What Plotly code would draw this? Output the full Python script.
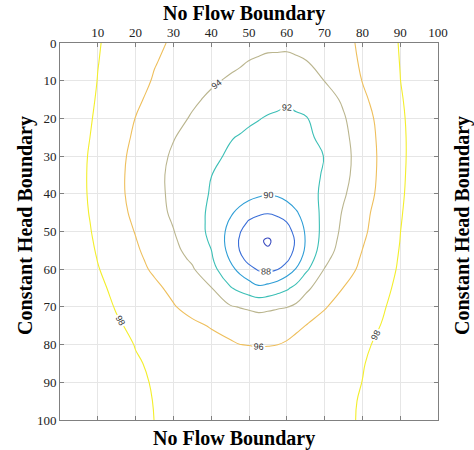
import plotly.graph_objects as go

# Grid coordinates (model domain, 0-100 in both directions)
x_vals = [0, 5, 10, 15, 20, 25, 30, 35, 40, 45, 47.5, 50, 52.5, 55, 57.5, 60, 62.5, 65, 70, 75, 80, 85, 90, 95, 100]
y_vals = [0, 5, 10, 15, 20, 25, 30, 35, 40, 45, 47.5, 50, 52.5, 55, 57.5, 60, 65, 70, 75, 80, 85, 90, 95, 100]

# Head values, one row per y value
z_y0 = [100, 99.06, 98.11, 97.48, 96.89, 96.30, 95.81, 95.42, 95.04, 94.66, 94.50, 94.33, 94.28, 94.22, 94.21, 94.20, 94.26, 94.31, 94.84, 95.54, 96.30, 97.20, 98.10, 99.05, 100]
z_y5 = [100, 99.02, 98.04, 97.38, 96.73, 96.08, 95.62, 95.20, 94.77, 94.34, 94.16, 93.97, 93.89, 93.80, 93.79, 93.77, 93.86, 93.95, 94.56, 95.37, 96.20, 97.12, 98.04, 99.02, 100]
z_y10 = [100, 98.97, 97.96, 97.25, 96.54, 95.87, 95.32, 94.77, 94.22, 93.81, 93.66, 93.50, 93.35, 93.19, 93.18, 93.17, 93.38, 93.59, 94.02, 95.03, 96.04, 97.01, 97.98, 98.99, 100]
z_y15 = [100, 98.89, 97.84, 97.06, 96.27, 95.57, 94.92, 94.26, 93.72, 93.25, 93.02, 92.79, 92.62, 92.45, 92.33, 92.20, 92.35, 92.49, 93.20, 94.27, 95.64, 96.78, 97.83, 98.91, 100]
z_y20 = [100, 98.78, 97.69, 96.83, 95.97, 95.24, 94.51, 93.84, 93.30, 92.76, 92.49, 92.22, 92.06, 91.89, 91.80, 91.70, 91.81, 91.91, 92.68, 93.82, 95.22, 96.53, 97.70, 98.85, 100]
z_y25 = [100, 98.65, 97.54, 96.64, 95.76, 94.92, 94.08, 93.41, 92.75, 92.09, 91.91, 91.73, 91.58, 91.42, 91.45, 91.48, 91.63, 91.77, 92.28, 93.56, 95.00, 96.41, 97.63, 98.82, 100]
z_y30 = [100, 98.51, 97.39, 96.48, 95.55, 94.62, 93.76, 93.04, 92.33, 91.79, 91.60, 91.40, 91.21, 91.01, 91.07, 91.12, 91.34, 91.56, 92.03, 93.39, 94.88, 96.35, 97.62, 98.82, 100]
z_y35 = [100, 98.46, 97.35, 96.41, 95.46, 94.49, 93.60, 92.80, 92.02, 91.51, 91.26, 91.00, 90.75, 90.50, 90.69, 90.87, 91.17, 91.47, 92.14, 93.49, 94.94, 96.38, 97.67, 98.85, 100]
z_y40 = [100, 98.48, 97.36, 96.42, 95.47, 94.53, 93.61, 92.71, 91.88, 91.28, 90.99, 90.69, 90.33, 90.12, 90.25, 90.67, 91.04, 91.41, 92.30, 93.79, 95.15, 96.46, 97.74, 98.89, 100]
z_y45 = [100, 98.57, 97.46, 96.56, 95.63, 94.67, 93.71, 92.74, 91.67, 90.28, 89.53, 88.75, 88.42, 88.14, 88.50, 88.96, 89.83, 90.73, 92.52, 94.18, 95.48, 96.70, 97.86, 98.94, 100]
z_y47 = [100, 98.65, 97.55, 96.67, 95.78, 94.83, 93.89, 92.83, 91.61, 89.80, 88.78, 87.79, 87.16, 86.98, 87.27, 88.02, 89.25, 90.45, 92.60, 94.31, 95.58, 96.77, 97.92, 98.97, 100]
z_y50 = [100, 98.72, 97.63, 96.78, 95.93, 94.99, 94.06, 92.92, 91.59, 89.44, 88.15, 87.07, 86.44, 86.26, 86.54, 87.29, 88.60, 90.22, 92.69, 94.44, 95.68, 96.84, 97.98, 98.99, 100]
z_y52 = [100, 98.81, 97.73, 96.90, 96.07, 95.16, 94.25, 93.11, 91.76, 89.26, 87.85, 86.77, 86.14, 85.88, 86.25, 86.99, 88.23, 90.12, 92.86, 94.62, 95.85, 96.95, 98.02, 99.01, 100]
z_y55 = [100, 98.89, 97.84, 97.02, 96.21, 95.35, 94.46, 93.35, 92.03, 89.42, 87.98, 86.90, 86.27, 86.09, 86.37, 87.12, 88.43, 90.30, 93.13, 94.80, 96.02, 97.05, 98.08, 99.04, 100]
z_y57 = [100, 98.97, 97.96, 97.16, 96.37, 95.55, 94.72, 93.77, 92.28, 89.89, 88.58, 87.45, 86.82, 86.64, 86.92, 87.67, 89.17, 90.79, 93.62, 95.04, 96.20, 97.17, 98.14, 99.07, 100]
z_y60 = [100, 99.04, 98.08, 97.29, 96.52, 95.75, 94.97, 94.19, 92.67, 90.56, 89.51, 88.57, 87.80, 87.62, 87.91, 88.95, 90.12, 91.59, 94.07, 95.28, 96.37, 97.28, 98.20, 99.10, 100]
z_y65 = [100, 99.17, 98.35, 97.62, 96.97, 96.32, 95.62, 94.85, 94.08, 92.16, 91.52, 90.94, 90.36, 90.67, 91.20, 91.73, 92.53, 93.64, 94.93, 96.03, 96.80, 97.57, 98.36, 99.18, 100]
z_y70 = [100, 99.29, 98.58, 97.89, 97.30, 96.70, 96.11, 95.47, 94.83, 94.19, 93.93, 93.76, 93.59, 93.67, 93.81, 93.95, 94.35, 94.87, 95.90, 96.57, 97.20, 97.82, 98.53, 99.26, 100]
z_y75 = [100, 99.39, 98.79, 98.18, 97.68, 97.23, 96.77, 96.32, 95.89, 95.51, 95.32, 95.13, 94.94, 95.09, 95.32, 95.55, 95.79, 96.02, 96.52, 97.02, 97.52, 98.03, 98.68, 99.34, 100]
z_y80 = [100, 99.48, 98.96, 98.45, 97.95, 97.60, 97.24, 96.89, 96.54, 96.18, 96.01, 95.97, 95.94, 95.95, 95.99, 96.12, 96.32, 96.53, 96.94, 97.36, 97.77, 98.26, 98.84, 99.42, 100]
z_y85 = [100, 99.53, 99.06, 98.59, 98.12, 97.81, 97.56, 97.30, 97.05, 96.80, 96.68, 96.55, 96.43, 96.51, 96.66, 96.80, 96.94, 97.08, 97.37, 97.65, 97.93, 98.40, 98.94, 99.47, 100]
z_y90 = [100, 99.56, 99.13, 98.69, 98.25, 97.90, 97.67, 97.44, 97.20, 96.97, 96.86, 96.74, 96.62, 96.70, 96.83, 96.96, 97.09, 97.22, 97.48, 97.75, 98.01, 98.51, 99.00, 99.50, 100]
z_y95 = [100, 99.58, 99.17, 98.75, 98.33, 97.96, 97.74, 97.53, 97.31, 97.09, 96.99, 96.88, 96.77, 96.85, 96.96, 97.09, 97.20, 97.32, 97.56, 97.80, 98.08, 98.56, 99.04, 99.52, 100]
z_y100 = [100, 99.60, 99.19, 98.79, 98.38, 97.99, 97.77, 97.56, 97.35, 97.13, 97.03, 96.92, 96.82, 96.89, 97.01, 97.12, 97.24, 97.35, 97.59, 97.82, 98.10, 98.58, 99.05, 99.53, 100]

z_rows = [z_y0, z_y5, z_y10, z_y15, z_y20, z_y25, z_y30, z_y35, z_y40, z_y45, z_y47, z_y50,
          z_y52, z_y55, z_y57, z_y60, z_y65, z_y70, z_y75, z_y80, z_y85, z_y90, z_y95, z_y100]

x_ticks = [10, 20, 30, 40, 50, 60, 70, 80, 90, 100]
y_ticks = [0, 10, 20, 30, 40, 50, 60, 70, 80, 90, 100]

# Contour levels and line colours (parula-like)
levels = [86, 88, 90, 92, 94, 96, 98]
level_colors = ["#3b4cc0", "#3a6ed8", "#2f9ed6", "#3cbfb6", "#bab58e", "#eebf5c", "#f3ee2c"]

colorscale = [[i / (len(levels) - 1), c] for i, c in enumerate(level_colors)]

fig = go.Figure()
fig.add_trace(go.Contour(
    x=x_vals, y=y_vals, z=z_rows,
    zmin=levels[0], zmax=levels[-1],
    colorscale=colorscale, showscale=False,
    contours=dict(start=levels[0], end=levels[-1], size=2, coloring="lines",
                  showlabels=True,
                  labelfont=dict(family="Liberation Sans, Arial", size=9, color="#333333")),
    line=dict(width=1.1, smoothing=1.3),
    hoverinfo="skip",
))

serif = "Liberation Serif, Times New Roman, serif"
axis_common = dict(
    showline=True, linecolor="#808080", linewidth=1, mirror="ticks",
    ticks="inside", ticklen=4, tickcolor="#808080",
    showgrid=True, gridcolor="#e6e6e6", gridwidth=1,
    zeroline=False, automargin=False,
    tickfont=dict(family=serif, size=13, color="#222222"),
)

fig.update_layout(
    width=474, height=450,
    margin=dict(l=60, r=36, t=43, b=30, autoexpand=False),
    paper_bgcolor="white", plot_bgcolor="white",
    xaxis=dict(range=[0, 100], side="top", tickvals=x_ticks, **axis_common),
    yaxis=dict(range=[100, 0], tickvals=y_ticks, **axis_common),
    showlegend=False,
    annotations=[
        dict(text="<b>No Flow Boundary</b>", xref="paper", yref="paper",
             x=0.487, y=1.077, xanchor="center", yanchor="middle", showarrow=False,
             font=dict(family=serif, size=20, color="#000000")),
        dict(text="<b>No Flow Boundary</b>", xref="paper", yref="paper",
             x=0.46, y=-0.048, xanchor="center", yanchor="middle", showarrow=False,
             font=dict(family=serif, size=20, color="#000000")),
        dict(text="<b>Constant Head Boundary</b>", xref="paper", yref="paper",
             x=-0.093, y=0.517, xanchor="center", yanchor="middle", showarrow=False,
             textangle=-90, font=dict(family=serif, size=20, color="#000000")),
        dict(text="<b>Constant Head Boundary</b>", xref="paper", yref="paper",
             x=1.063, y=0.517, xanchor="center", yanchor="middle", showarrow=False,
             textangle=-90, font=dict(family=serif, size=20, color="#000000")),
    ],
)

fig.write_html("out.html", config={"displayModeBar": False},
               post_script="document.body.style.margin='0';document.body.style.padding='0';")
